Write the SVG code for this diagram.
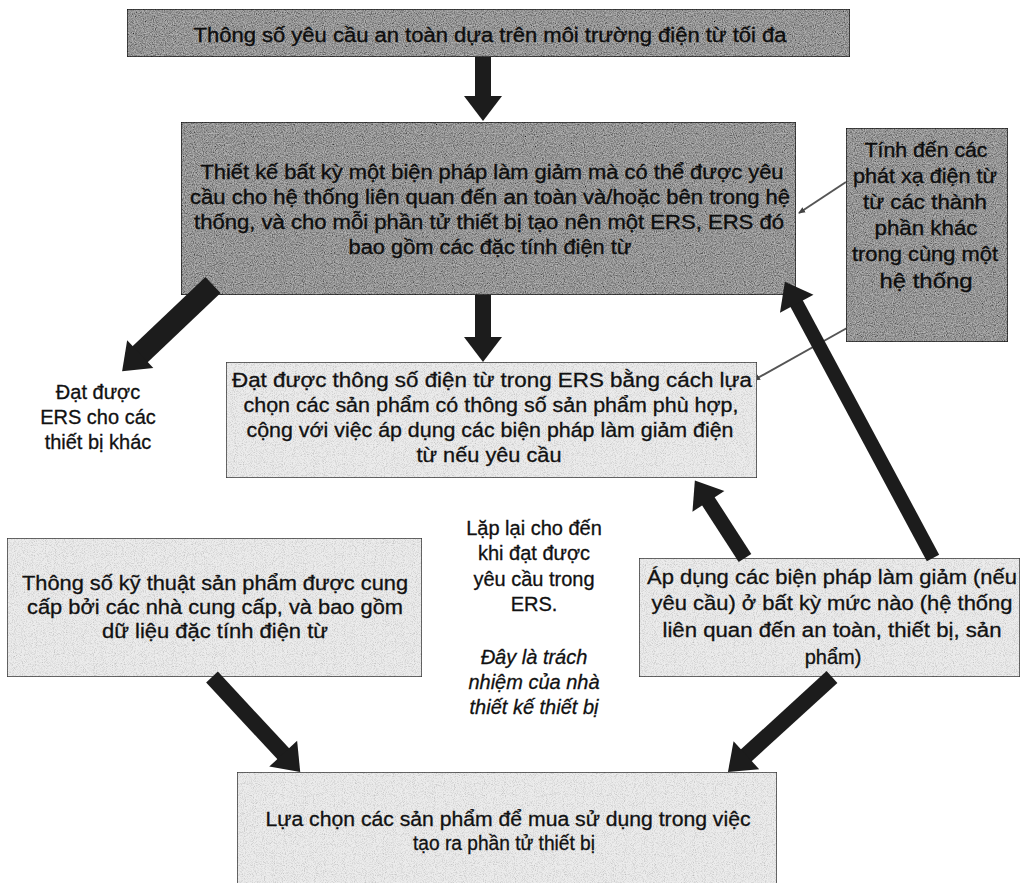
<svg xmlns="http://www.w3.org/2000/svg" width="1022" height="883" viewBox="0 0 1022 883">
<style>
text{font-family:"Liberation Sans",Arial,sans-serif;fill:#111;text-anchor:middle;stroke:#111;stroke-width:0.3px}
.t20{font-size:20px}
.t21{font-size:21px}
.it{font-style:italic}
.dk text{fill:#0d0d0d;stroke:#0d0d0d;stroke-width:0.35px}
.boxd{fill:#b4b4b4;stroke:#262626;stroke-width:1.5;filter:url(#grainD)}
.boxl{fill:#ececec;stroke:#3a3a3a;stroke-width:1.5;filter:url(#grainL)}
.arrow{stroke:#1c1c1c;fill:none;marker-end:url(#head)}
.thin{stroke:#555;stroke-width:2;fill:none;marker-end:url(#small)}
</style>
<defs>
<filter id="grainD" x="0" y="0" width="100%" height="100%">
<feTurbulence type="fractalNoise" baseFrequency="0.9" numOctaves="2" seed="4" result="t"/>
<feColorMatrix in="t" type="saturate" values="0" result="g"/>
<feComponentTransfer in="g" result="g2">
<feFuncR type="linear" slope="1.9" intercept="-0.3"/>
<feFuncG type="linear" slope="1.9" intercept="-0.3"/>
<feFuncB type="linear" slope="1.9" intercept="-0.3"/>
<feFuncA type="linear" slope="0" intercept="1"/>
</feComponentTransfer>
<feBlend in="SourceGraphic" in2="g2" mode="multiply" result="b"/>
<feComposite in="b" in2="SourceGraphic" operator="in"/>
</filter>
<filter id="grainL" x="0" y="0" width="100%" height="100%">
<feTurbulence type="fractalNoise" baseFrequency="1.1" numOctaves="1" seed="7" result="t"/>
<feColorMatrix in="t" type="saturate" values="0" result="g"/>
<feComponentTransfer in="g" result="g2">
<feFuncR type="linear" slope="1.2" intercept="0.35"/>
<feFuncG type="linear" slope="1.2" intercept="0.35"/>
<feFuncB type="linear" slope="1.2" intercept="0.35"/>
<feFuncA type="linear" slope="0" intercept="1"/>
</feComponentTransfer>
<feBlend in="SourceGraphic" in2="g2" mode="multiply" result="b"/>
<feComposite in="b" in2="SourceGraphic" operator="in"/>
</filter>
<marker id="head" markerUnits="userSpaceOnUse" markerWidth="40" markerHeight="42" viewBox="0 -21 26 42" refX="10" refY="0" orient="auto">
<path d="M0,-19 L25,0 L0,19 z" fill="#1c1c1c"/>
</marker>
<marker id="small" markerUnits="userSpaceOnUse" markerWidth="8" markerHeight="8" viewBox="0 -4 8 8" refX="6" refY="0" orient="auto">
<path d="M0,-3 L7,0 L0,3 z" fill="#444"/>
</marker>
</defs>

<g id="connectors">
<line class="thin" x1="846" y1="182" x2="799" y2="213"/>
<line class="thin" x1="847" y1="328" x2="754" y2="380"/>
</g>

<g id="n-top" class="dk">
<rect class="boxd" x="127" y="9" width="723" height="48"/>
<text class="t20" x="490" y="42" textLength="593" lengthAdjust="spacingAndGlyphs">Thông số yêu cầu an toàn dựa trên môi trường điện từ tối đa</text>
</g>

<g id="n-design" class="dk">
<rect class="boxd" x="181" y="122" width="615" height="173"/>
<text class="t20" x="492" y="179" textLength="583" lengthAdjust="spacingAndGlyphs">Thiết kế bất kỳ một biện pháp làm giảm mà có thể được yêu</text>
<text class="t20" x="490" y="204" textLength="600" lengthAdjust="spacingAndGlyphs">cầu cho hệ thống liên quan đến an toàn và/hoặc bên trong hệ</text>
<text class="t20" x="489" y="229" textLength="590" lengthAdjust="spacingAndGlyphs">thống, và cho mỗi phần tử thiết bị tạo nên một ERS, ERS đó</text>
<text class="t20" x="490" y="254" textLength="283" lengthAdjust="spacingAndGlyphs">bao gồm các đặc tính điện từ</text>
</g>

<g id="n-emissions" class="dk">
<rect class="boxd" x="846" y="128" width="162" height="214"/>
<text class="t21" x="926" y="157" textLength="123" lengthAdjust="spacingAndGlyphs">Tính đến các</text>
<text class="t21" x="925" y="183" textLength="144" lengthAdjust="spacingAndGlyphs">phát xạ điện từ</text>
<text class="t21" x="925" y="209" textLength="124" lengthAdjust="spacingAndGlyphs">từ các thành</text>
<text class="t21" x="926" y="235" textLength="103" lengthAdjust="spacingAndGlyphs">phần khác</text>
<text class="t21" x="925" y="261" textLength="146" lengthAdjust="spacingAndGlyphs">trong cùng một</text>
<text class="t21" x="926" y="288" textLength="93" lengthAdjust="spacingAndGlyphs">hệ thống</text>
</g>

<g id="n-other">
<text class="t20" x="98" y="399">Đạt được</text>
<text class="t20" x="98" y="424">ERS cho các</text>
<text class="t20" x="98" y="449">thiết bị khác</text>
</g>

<g id="n-achieve">
<rect class="boxl" x="226" y="362" width="531" height="116"/>
<text class="t20" x="492" y="387" textLength="520" lengthAdjust="spacingAndGlyphs">Đạt được thông số điện từ trong ERS bằng cách lựa</text>
<text class="t20" x="491" y="412" textLength="495" lengthAdjust="spacingAndGlyphs">chọn các sản phẩm có thông số sản phẩm phù hợp,</text>
<text class="t20" x="490" y="437" textLength="487" lengthAdjust="spacingAndGlyphs">cộng với việc áp dụng các biện pháp làm giảm điện</text>
<text class="t20" x="489" y="462" textLength="145" lengthAdjust="spacingAndGlyphs">từ nếu yêu cầu</text>
</g>

<g id="n-repeat">
<text class="t20" x="534" y="535">Lặp lại cho đến</text>
<text class="t20" x="534" y="560">khi đạt được</text>
<text class="t20" x="534" y="586">yêu cầu trong</text>
<text class="t20" x="534" y="611">ERS.</text>
<text class="t20 it" x="534" y="664">Đây là trách</text>
<text class="t20 it" x="534" y="689">nhiệm của nhà</text>
<text class="t20 it" x="534" y="714">thiết kế thiết bị</text>
</g>

<g id="n-spec">
<rect class="boxl" x="7" y="538" width="415" height="139"/>
<text class="t20" x="215" y="590" textLength="386" lengthAdjust="spacingAndGlyphs">Thông số kỹ thuật sản phẩm được cung</text>
<text class="t20" x="215" y="614" textLength="376" lengthAdjust="spacingAndGlyphs">cấp bởi các nhà cung cấp, và bao gồm</text>
<text class="t20" x="215" y="638" textLength="226" lengthAdjust="spacingAndGlyphs">dữ liệu đặc tính điện từ</text>
</g>

<g id="n-apply">
<rect class="boxl" x="639" y="558" width="381" height="119"/>
<text class="t20" x="832" y="584" textLength="370" lengthAdjust="spacingAndGlyphs">Áp dụng các biện pháp làm giảm (nếu</text>
<text class="t20" x="832" y="610" textLength="361" lengthAdjust="spacingAndGlyphs">yêu cầu) ở bất kỳ mức nào (hệ thống</text>
<text class="t20" x="832" y="637" textLength="339" lengthAdjust="spacingAndGlyphs">liên quan đến an toàn, thiết bị, sản</text>
<text class="t20" x="833" y="664">phẩm)</text>
</g>

<g id="n-select">
<rect class="boxl" x="237" y="772" width="540" height="118"/>
<text class="t20" x="508" y="826" textLength="485" lengthAdjust="spacingAndGlyphs">Lựa chọn các sản phẩm để mua sử dụng trong việc</text>
<text class="t20" x="504" y="850" textLength="182" lengthAdjust="spacingAndGlyphs">tạo ra phần tử thiết bị</text>
</g>

<g id="arrows">
<line class="arrow" stroke-width="16" x1="483" y1="57" x2="483" y2="106"/>
<line class="arrow" stroke-width="16" x1="483" y1="295" x2="483" y2="347"/>
<line class="arrow" stroke-width="22" x1="213" y1="285" x2="133" y2="361"/>
<line class="arrow" stroke-width="15" x1="745" y1="558" x2="703" y2="493"/>
<line class="arrow" stroke-width="14" x1="933" y1="558" x2="792" y2="295"/>
<line class="arrow" stroke-width="16" x1="212" y1="677" x2="290" y2="761"/>
<line class="arrow" stroke-width="16" x1="832" y1="677" x2="739" y2="762"/>
</g>
</svg>
